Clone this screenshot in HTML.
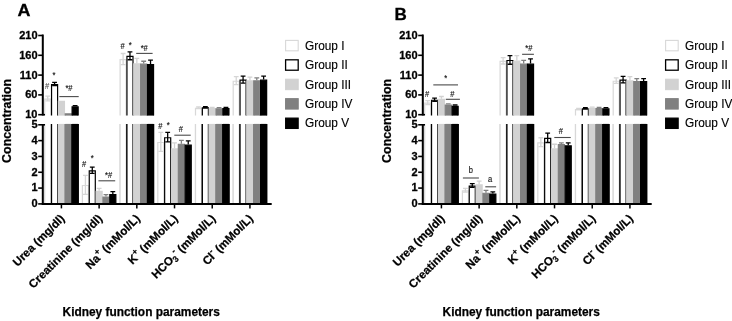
<!DOCTYPE html>
<html><head><meta charset="utf-8"><style>
html,body{margin:0;padding:0;background:#fff;}
svg{display:block;filter:blur(0.3px);font-family:"Liberation Sans",sans-serif;}
</style></head><body>
<svg width="732" height="321" viewBox="0 0 732 321">
<rect width="732" height="321" fill="#fff"/>
<g transform="translate(0,0)">
<path d="M44.70 115.60V99.06H50.75V115.60" fill="#ffffff" stroke="#d8d8d8" stroke-width="1.2"/>
<path d="M44.70 203.90V123.90M50.75 123.90V203.90" fill="none" stroke="#d8d8d8" stroke-width="1.2"/>
<rect x="44.70" y="123.90" width="6.05" height="80.00" fill="#ffffff"/>
<path d="M44.70 203.90V123.90M50.75 123.90V203.90" fill="none" stroke="#d8d8d8" stroke-width="1.2"/>
<path d="M51.55 115.60V84.61H57.60V115.60" fill="#ffffff" stroke="#000000" stroke-width="1.2"/>
<path d="M51.55 203.90V123.90M57.60 123.90V203.90" fill="none" stroke="#000000" stroke-width="1.2"/>
<rect x="51.55" y="123.90" width="6.05" height="80.00" fill="#ffffff"/>
<path d="M51.55 203.90V123.90M57.60 123.90V203.90" fill="none" stroke="#000000" stroke-width="1.2"/>
<path d="M58.40 115.60V101.44H64.45V115.60" fill="#d2d2d2" stroke="#d2d2d2" stroke-width="1.2"/>
<path d="M58.40 203.90V123.90M64.45 123.90V203.90" fill="none" stroke="#d2d2d2" stroke-width="1.2"/>
<rect x="58.40" y="123.90" width="6.05" height="80.00" fill="#d2d2d2"/>
<path d="M58.40 203.90V123.90M64.45 123.90V203.90" fill="none" stroke="#d2d2d2" stroke-width="1.2"/>
<path d="M65.25 115.60V113.91H71.30V115.60" fill="#808080" stroke="#808080" stroke-width="1.2"/>
<path d="M65.25 203.90V123.90M71.30 123.90V203.90" fill="none" stroke="#808080" stroke-width="1.2"/>
<rect x="65.25" y="123.90" width="6.05" height="80.00" fill="#808080"/>
<path d="M65.25 203.90V123.90M71.30 123.90V203.90" fill="none" stroke="#808080" stroke-width="1.2"/>
<path d="M72.10 115.60V106.79H78.15V115.60" fill="#000000" stroke="#000000" stroke-width="1.2"/>
<path d="M72.10 203.90V123.90M78.15 123.90V203.90" fill="none" stroke="#000000" stroke-width="1.2"/>
<rect x="72.10" y="123.90" width="6.05" height="80.00" fill="#000000"/>
<path d="M72.10 203.90V123.90M78.15 123.90V203.90" fill="none" stroke="#000000" stroke-width="1.2"/>
<path d="M82.40 203.90V185.52H88.45V203.90" fill="#ffffff" stroke="#d8d8d8" stroke-width="1.2"/>
<path d="M89.25 203.90V170.80H95.30V203.90" fill="#ffffff" stroke="#000000" stroke-width="1.2"/>
<path d="M96.10 203.90V191.37H102.15V203.90" fill="#d2d2d2" stroke="#d2d2d2" stroke-width="1.2"/>
<path d="M102.95 203.90V197.06H109.00V203.90" fill="#808080" stroke="#808080" stroke-width="1.2"/>
<path d="M109.80 203.90V194.53H115.85V203.90" fill="#000000" stroke="#000000" stroke-width="1.2"/>
<path d="M120.10 115.60V59.62H126.15V115.60" fill="#ffffff" stroke="#d8d8d8" stroke-width="1.2"/>
<path d="M120.10 203.90V123.90M126.15 123.90V203.90" fill="none" stroke="#d8d8d8" stroke-width="1.2"/>
<rect x="120.10" y="123.90" width="6.05" height="80.00" fill="#ffffff"/>
<path d="M120.10 203.90V123.90M126.15 123.90V203.90" fill="none" stroke="#d8d8d8" stroke-width="1.2"/>
<path d="M126.95 115.60V56.41H133.00V115.60" fill="#ffffff" stroke="#000000" stroke-width="1.2"/>
<path d="M126.95 203.90V123.90M133.00 123.90V203.90" fill="none" stroke="#000000" stroke-width="1.2"/>
<rect x="126.95" y="123.90" width="6.05" height="80.00" fill="#ffffff"/>
<path d="M126.95 203.90V123.90M133.00 123.90V203.90" fill="none" stroke="#000000" stroke-width="1.2"/>
<path d="M133.80 115.60V63.82H139.85V115.60" fill="#d2d2d2" stroke="#d2d2d2" stroke-width="1.2"/>
<path d="M133.80 203.90V123.90M139.85 123.90V203.90" fill="none" stroke="#d2d2d2" stroke-width="1.2"/>
<rect x="133.80" y="123.90" width="6.05" height="80.00" fill="#d2d2d2"/>
<path d="M133.80 203.90V123.90M139.85 123.90V203.90" fill="none" stroke="#d2d2d2" stroke-width="1.2"/>
<path d="M140.65 115.60V64.22H146.70V115.60" fill="#808080" stroke="#808080" stroke-width="1.2"/>
<path d="M140.65 203.90V123.90M146.70 123.90V203.90" fill="none" stroke="#808080" stroke-width="1.2"/>
<rect x="140.65" y="123.90" width="6.05" height="80.00" fill="#808080"/>
<path d="M140.65 203.90V123.90M146.70 123.90V203.90" fill="none" stroke="#808080" stroke-width="1.2"/>
<path d="M147.50 115.60V64.61H153.55V115.60" fill="#000000" stroke="#000000" stroke-width="1.2"/>
<path d="M147.50 203.90V123.90M153.55 123.90V203.90" fill="none" stroke="#000000" stroke-width="1.2"/>
<rect x="147.50" y="123.90" width="6.05" height="80.00" fill="#000000"/>
<path d="M147.50 203.90V123.90M153.55 123.90V203.90" fill="none" stroke="#000000" stroke-width="1.2"/>
<path d="M157.80 203.90V142.49H163.85V203.90" fill="#ffffff" stroke="#d8d8d8" stroke-width="1.2"/>
<path d="M164.65 203.90V137.74H170.70V203.90" fill="#ffffff" stroke="#000000" stroke-width="1.2"/>
<path d="M171.50 203.90V148.97H177.55V203.90" fill="#d2d2d2" stroke="#d2d2d2" stroke-width="1.2"/>
<path d="M178.35 203.90V144.23H184.40V203.90" fill="#808080" stroke="#808080" stroke-width="1.2"/>
<path d="M185.20 203.90V145.17H191.25V203.90" fill="#000000" stroke="#000000" stroke-width="1.2"/>
<path d="M195.50 115.60V108.29H201.55V115.60" fill="#ffffff" stroke="#d8d8d8" stroke-width="1.2"/>
<path d="M195.50 203.90V123.90M201.55 123.90V203.90" fill="none" stroke="#d8d8d8" stroke-width="1.2"/>
<rect x="195.50" y="123.90" width="6.05" height="80.00" fill="#ffffff"/>
<path d="M195.50 203.90V123.90M201.55 123.90V203.90" fill="none" stroke="#d8d8d8" stroke-width="1.2"/>
<path d="M202.35 115.60V107.78H208.40V115.60" fill="#ffffff" stroke="#000000" stroke-width="1.2"/>
<path d="M202.35 203.90V123.90M208.40 123.90V203.90" fill="none" stroke="#000000" stroke-width="1.2"/>
<rect x="202.35" y="123.90" width="6.05" height="80.00" fill="#ffffff"/>
<path d="M202.35 203.90V123.90M208.40 123.90V203.90" fill="none" stroke="#000000" stroke-width="1.2"/>
<path d="M209.20 115.60V108.57H215.25V115.60" fill="#d2d2d2" stroke="#d2d2d2" stroke-width="1.2"/>
<path d="M209.20 203.90V123.90M215.25 123.90V203.90" fill="none" stroke="#d2d2d2" stroke-width="1.2"/>
<rect x="209.20" y="123.90" width="6.05" height="80.00" fill="#d2d2d2"/>
<path d="M209.20 203.90V123.90M215.25 123.90V203.90" fill="none" stroke="#d2d2d2" stroke-width="1.2"/>
<path d="M216.05 115.60V108.81H222.10V115.60" fill="#808080" stroke="#808080" stroke-width="1.2"/>
<path d="M216.05 203.90V123.90M222.10 123.90V203.90" fill="none" stroke="#808080" stroke-width="1.2"/>
<rect x="216.05" y="123.90" width="6.05" height="80.00" fill="#808080"/>
<path d="M216.05 203.90V123.90M222.10 123.90V203.90" fill="none" stroke="#808080" stroke-width="1.2"/>
<path d="M222.90 115.60V108.49H228.95V115.60" fill="#000000" stroke="#000000" stroke-width="1.2"/>
<path d="M222.90 203.90V123.90M228.95 123.90V203.90" fill="none" stroke="#000000" stroke-width="1.2"/>
<rect x="222.90" y="123.90" width="6.05" height="80.00" fill="#000000"/>
<path d="M222.90 203.90V123.90M228.95 123.90V203.90" fill="none" stroke="#000000" stroke-width="1.2"/>
<path d="M233.20 115.60V81.24H239.25V115.60" fill="#ffffff" stroke="#d8d8d8" stroke-width="1.2"/>
<path d="M233.20 203.90V123.90M239.25 123.90V203.90" fill="none" stroke="#d8d8d8" stroke-width="1.2"/>
<rect x="233.20" y="123.90" width="6.05" height="80.00" fill="#ffffff"/>
<path d="M233.20 203.90V123.90M239.25 123.90V203.90" fill="none" stroke="#d8d8d8" stroke-width="1.2"/>
<path d="M240.05 115.60V80.21H246.10V115.60" fill="#ffffff" stroke="#000000" stroke-width="1.2"/>
<path d="M240.05 203.90V123.90M246.10 123.90V203.90" fill="none" stroke="#000000" stroke-width="1.2"/>
<rect x="240.05" y="123.90" width="6.05" height="80.00" fill="#ffffff"/>
<path d="M240.05 203.90V123.90M246.10 123.90V203.90" fill="none" stroke="#000000" stroke-width="1.2"/>
<path d="M246.90 115.60V80.85H252.95V115.60" fill="#d2d2d2" stroke="#d2d2d2" stroke-width="1.2"/>
<path d="M246.90 203.90V123.90M252.95 123.90V203.90" fill="none" stroke="#d2d2d2" stroke-width="1.2"/>
<rect x="246.90" y="123.90" width="6.05" height="80.00" fill="#d2d2d2"/>
<path d="M246.90 203.90V123.90M252.95 123.90V203.90" fill="none" stroke="#d2d2d2" stroke-width="1.2"/>
<path d="M253.75 115.60V80.85H259.80V115.60" fill="#808080" stroke="#808080" stroke-width="1.2"/>
<path d="M253.75 203.90V123.90M259.80 123.90V203.90" fill="none" stroke="#808080" stroke-width="1.2"/>
<rect x="253.75" y="123.90" width="6.05" height="80.00" fill="#808080"/>
<path d="M253.75 203.90V123.90M259.80 123.90V203.90" fill="none" stroke="#808080" stroke-width="1.2"/>
<path d="M260.60 115.60V80.21H266.65V115.60" fill="#000000" stroke="#000000" stroke-width="1.2"/>
<path d="M260.60 203.90V123.90M266.65 123.90V203.90" fill="none" stroke="#000000" stroke-width="1.2"/>
<rect x="260.60" y="123.90" width="6.05" height="80.00" fill="#000000"/>
<path d="M260.60 203.90V123.90M266.65 123.90V203.90" fill="none" stroke="#000000" stroke-width="1.2"/>
<path d="M47.72 96.09V100.84M45.32 96.09H50.12M45.32 100.84H50.12" stroke="#d6d6d6" stroke-width="1.3" fill="none"/>
<path d="M54.57 82.43V85.59M52.17 82.43H56.97M52.17 85.59H56.97" stroke="#000000" stroke-width="1.3" fill="none"/>
<path d="M75.12 105.59V106.19M72.72 105.59H77.52" stroke="#000000" stroke-width="1.3" fill="none"/>
<path d="M85.42 175.42V194.41M83.02 175.42H87.83M83.02 194.41H87.83" stroke="#d6d6d6" stroke-width="1.3" fill="none"/>
<path d="M92.27 167.04V173.37M89.87 167.04H94.67M89.87 173.37H94.67" stroke="#000000" stroke-width="1.3" fill="none"/>
<path d="M99.12 188.40V190.77M96.72 188.40H101.53" stroke="#d2d2d2" stroke-width="1.3" fill="none"/>
<path d="M105.97 194.57V196.46M103.57 194.57H108.38" stroke="#808080" stroke-width="1.3" fill="none"/>
<path d="M112.83 191.56V193.93M110.42 191.56H115.23" stroke="#000000" stroke-width="1.3" fill="none"/>
<path d="M123.12 53.48V64.57M120.72 53.48H125.53M120.72 64.57H125.53" stroke="#d6d6d6" stroke-width="1.3" fill="none"/>
<path d="M129.97 51.85V59.77M127.57 51.85H132.38M127.57 59.77H132.38" stroke="#000000" stroke-width="1.3" fill="none"/>
<path d="M136.83 58.47V63.22M134.43 58.47H139.23" stroke="#d2d2d2" stroke-width="1.3" fill="none"/>
<path d="M143.68 61.24V63.62M141.28 61.24H146.08" stroke="#808080" stroke-width="1.3" fill="none"/>
<path d="M150.53 60.05V64.01M148.12 60.05H152.93" stroke="#000000" stroke-width="1.3" fill="none"/>
<path d="M160.83 132.39V151.38M158.43 132.39H163.23M158.43 151.38H163.23" stroke="#d6d6d6" stroke-width="1.3" fill="none"/>
<path d="M167.68 132.39V141.89M165.28 132.39H170.08M165.28 141.89H170.08" stroke="#000000" stroke-width="1.3" fill="none"/>
<path d="M174.53 142.83V148.37M172.12 142.83H176.93" stroke="#d2d2d2" stroke-width="1.3" fill="none"/>
<path d="M181.38 140.46V143.63M178.97 140.46H183.78" stroke="#808080" stroke-width="1.3" fill="none"/>
<path d="M188.23 140.78V144.57M185.83 140.78H190.63" stroke="#000000" stroke-width="1.3" fill="none"/>
<path d="M198.53 106.90V108.48M196.13 106.90H200.93M196.13 108.48H200.93" stroke="#d6d6d6" stroke-width="1.3" fill="none"/>
<path d="M205.38 106.58V107.77M202.98 106.58H207.78M202.98 107.77H207.78" stroke="#000000" stroke-width="1.3" fill="none"/>
<path d="M212.23 107.37V107.97M209.83 107.37H214.63" stroke="#d2d2d2" stroke-width="1.3" fill="none"/>
<path d="M219.08 107.61V108.21M216.68 107.61H221.48" stroke="#808080" stroke-width="1.3" fill="none"/>
<path d="M225.93 107.29V107.89M223.53 107.29H228.33" stroke="#000000" stroke-width="1.3" fill="none"/>
<path d="M236.23 76.68V84.60M233.83 76.68H238.63M233.83 84.60H238.63" stroke="#d6d6d6" stroke-width="1.3" fill="none"/>
<path d="M243.08 76.05V83.18M240.68 76.05H245.48M240.68 83.18H245.48" stroke="#000000" stroke-width="1.3" fill="none"/>
<path d="M249.93 77.08V80.25M247.53 77.08H252.33" stroke="#d2d2d2" stroke-width="1.3" fill="none"/>
<path d="M256.78 77.87V80.25M254.38 77.87H259.18" stroke="#808080" stroke-width="1.3" fill="none"/>
<path d="M263.62 76.05V79.61M261.23 76.05H266.02" stroke="#000000" stroke-width="1.3" fill="none"/>
<path d="M42.8 34.6V115.60M42.8 123.90V204.90" stroke="#000" stroke-width="2" fill="none"/>
<path d="M41.8 204.10H271.7" stroke="#000" stroke-width="2" fill="none"/>
<path d="M38.2 35.50H42.8" stroke="#000" stroke-width="1.6"/>
<path d="M38.2 55.30H42.8" stroke="#000" stroke-width="1.6"/>
<path d="M38.2 75.10H42.8" stroke="#000" stroke-width="1.6"/>
<path d="M38.2 94.90H42.8" stroke="#000" stroke-width="1.6"/>
<path d="M38.2 114.70H45.0" stroke="#000" stroke-width="1.6"/>
<path d="M38.2 124.80H45.0" stroke="#000" stroke-width="1.6"/>
<path d="M38.2 140.62H42.8" stroke="#000" stroke-width="1.6"/>
<path d="M38.2 156.44H42.8" stroke="#000" stroke-width="1.6"/>
<path d="M38.2 172.26H42.8" stroke="#000" stroke-width="1.6"/>
<path d="M38.2 188.08H42.8" stroke="#000" stroke-width="1.6"/>
<path d="M38.2 203.90H42.8" stroke="#000" stroke-width="1.6"/>
<path d="M61.42 203.90V208.4" stroke="#000" stroke-width="1.5"/>
<path d="M99.12 203.90V208.4" stroke="#000" stroke-width="1.5"/>
<path d="M136.82 203.90V208.4" stroke="#000" stroke-width="1.5"/>
<path d="M174.53 203.90V208.4" stroke="#000" stroke-width="1.5"/>
<path d="M212.23 203.90V208.4" stroke="#000" stroke-width="1.5"/>
<path d="M249.93 203.90V208.4" stroke="#000" stroke-width="1.5"/>
<g font-weight="bold" font-size="11" text-anchor="end" fill="#000" stroke="#000" stroke-width="0.3">
<text x="37.5" y="38.90">210</text>
<text x="37.5" y="58.70">160</text>
<text x="37.5" y="78.50">110</text>
<text x="37.5" y="98.30">60</text>
<text x="37.5" y="118.10">10</text>
<text x="37.5" y="128.20">5</text>
<text x="37.5" y="144.02">4</text>
<text x="37.5" y="159.84">3</text>
<text x="37.5" y="175.66">2</text>
<text x="37.5" y="191.48">1</text>
<text x="37.5" y="207.30">0</text>
</g>
<g font-weight="bold" font-size="11.6" text-anchor="end" fill="#000" stroke="#000" stroke-width="0.25">
<text transform="translate(65.33,219.2) rotate(-45)">Urea (mg/dl)</text>
<text transform="translate(103.03,219.2) rotate(-45)">Creatinine (mg/dl)</text>
<text transform="translate(140.72,219.2) rotate(-45)">Na<tspan dy="-5" font-size="8.5">+</tspan><tspan dy="5"> (mMol/L)</tspan></text>
<text transform="translate(178.43,219.2) rotate(-45)">K<tspan dy="-5" font-size="8.5">+</tspan><tspan dy="5"> (mMol/L)</tspan></text>
<text transform="translate(216.13,219.2) rotate(-45)">HCO<tspan dy="2.5" font-size="8.5">3</tspan><tspan dy="-7.5" font-size="8.5">-</tspan><tspan dy="5"> (mMol/L)</tspan></text>
<text transform="translate(253.83,219.2) rotate(-45)">Cl<tspan dy="-5" font-size="8.5">-</tspan><tspan dy="5"> (mMol/L)</tspan></text>
</g>
<text transform="translate(11.1,120.9) rotate(-90)" font-weight="bold" font-size="12.4" stroke="#000" stroke-width="0.25" text-anchor="middle">Concentration</text>
<text x="141.2" y="316" font-weight="bold" font-size="11.9" stroke="#000" stroke-width="0.25" text-anchor="middle">Kidney function parameters</text>
<text transform="translate(17.5,16.2) scale(1.05,1)" font-weight="bold" font-size="17.1" stroke="#000" stroke-width="0.3">A</text>
<text transform="translate(47,89.4) scale(0.84,1)" font-size="9" text-anchor="middle" fill="#555" stroke="#555" stroke-width="0.15">#</text>
<text transform="translate(54,78.4) scale(0.84,1)" font-size="9" text-anchor="middle" fill="#111" stroke="#111" stroke-width="0.15">*</text>
<text transform="translate(69,91.4) scale(0.84,1)" font-size="9" text-anchor="middle" fill="#111" stroke="#111" stroke-width="0.15">*#</text>
<text transform="translate(84,166.9) scale(0.84,1)" font-size="9" text-anchor="middle" fill="#111" stroke="#111" stroke-width="0.15">#</text>
<text transform="translate(92.2,161.4) scale(0.84,1)" font-size="9" text-anchor="middle" fill="#111" stroke="#111" stroke-width="0.15">*</text>
<text transform="translate(108.6,177.9) scale(0.84,1)" font-size="9" text-anchor="middle" fill="#111" stroke="#111" stroke-width="0.15">*#</text>
<text transform="translate(122.7,48.9) scale(0.84,1)" font-size="9" text-anchor="middle" fill="#111" stroke="#111" stroke-width="0.15">#</text>
<text transform="translate(130.2,47.9) scale(0.84,1)" font-size="9" text-anchor="middle" fill="#111" stroke="#111" stroke-width="0.15">*</text>
<text transform="translate(144.2,50.9) scale(0.84,1)" font-size="9" text-anchor="middle" fill="#111" stroke="#111" stroke-width="0.15">*#</text>
<text transform="translate(160.3,129.4) scale(0.84,1)" font-size="9" text-anchor="middle" fill="#111" stroke="#111" stroke-width="0.15">#</text>
<text transform="translate(168.1,127.9) scale(0.84,1)" font-size="9" text-anchor="middle" fill="#111" stroke="#111" stroke-width="0.15">*</text>
<text transform="translate(180.8,132.4) scale(0.84,1)" font-size="9" text-anchor="middle" fill="#111" stroke="#111" stroke-width="0.15">#</text>
<path d="M59.3 96.6H78.7" stroke="#4a4a4a" stroke-width="1.1"/>
<path d="M98.4 180.8H115.2" stroke="#4a4a4a" stroke-width="1.1"/>
<path d="M136.2 53.4H152.6" stroke="#4a4a4a" stroke-width="1.1"/>
<path d="M174.3 135.2H190.7" stroke="#4a4a4a" stroke-width="1.1"/>
<rect x="285.6" y="40.40" width="12.6" height="10.4" fill="#ffffff" stroke="#d8d8d8" stroke-width="1.1"/>
<text transform="translate(305,49.70) scale(0.94,1)" font-size="12.6" stroke="#000" stroke-width="0.15">Group I</text>
<rect x="285.6" y="59.82" width="12.6" height="10.4" fill="#ffffff" stroke="#000000" stroke-width="1.3"/>
<text transform="translate(305,69.12) scale(0.94,1)" font-size="12.6" stroke="#000" stroke-width="0.15">Group II</text>
<rect x="285.6" y="79.24" width="12.6" height="10.4" fill="#d2d2d2" stroke="#d2d2d2" stroke-width="1.1"/>
<text transform="translate(305,88.54) scale(0.94,1)" font-size="12.6" stroke="#000" stroke-width="0.15">Group III</text>
<rect x="285.6" y="98.66" width="12.6" height="10.4" fill="#808080" stroke="#808080" stroke-width="1.1"/>
<text transform="translate(305,107.96) scale(0.94,1)" font-size="12.6" stroke="#000" stroke-width="0.15">Group IV</text>
<rect x="285.6" y="118.08" width="12.6" height="10.4" fill="#000000" stroke="#000000" stroke-width="1.1"/>
<text transform="translate(305,127.38) scale(0.94,1)" font-size="12.6" stroke="#000" stroke-width="0.15">Group V</text>
</g>
<g transform="translate(380,0)">
<path d="M44.70 115.60V103.18H50.75V115.60" fill="#ffffff" stroke="#d8d8d8" stroke-width="1.2"/>
<path d="M44.70 203.90V123.90M50.75 123.90V203.90" fill="none" stroke="#d8d8d8" stroke-width="1.2"/>
<rect x="44.70" y="123.90" width="6.05" height="80.00" fill="#ffffff"/>
<path d="M44.70 203.90V123.90M50.75 123.90V203.90" fill="none" stroke="#d8d8d8" stroke-width="1.2"/>
<path d="M51.55 115.60V100.25H57.60V115.60" fill="#ffffff" stroke="#000000" stroke-width="1.2"/>
<path d="M51.55 203.90V123.90M57.60 123.90V203.90" fill="none" stroke="#000000" stroke-width="1.2"/>
<rect x="51.55" y="123.90" width="6.05" height="80.00" fill="#ffffff"/>
<path d="M51.55 203.90V123.90M57.60 123.90V203.90" fill="none" stroke="#000000" stroke-width="1.2"/>
<path d="M58.40 115.60V99.46H64.45V115.60" fill="#d2d2d2" stroke="#d2d2d2" stroke-width="1.2"/>
<path d="M58.40 203.90V123.90M64.45 123.90V203.90" fill="none" stroke="#d2d2d2" stroke-width="1.2"/>
<rect x="58.40" y="123.90" width="6.05" height="80.00" fill="#d2d2d2"/>
<path d="M58.40 203.90V123.90M64.45 123.90V203.90" fill="none" stroke="#d2d2d2" stroke-width="1.2"/>
<path d="M65.25 115.60V105.00H71.30V115.60" fill="#808080" stroke="#808080" stroke-width="1.2"/>
<path d="M65.25 203.90V123.90M71.30 123.90V203.90" fill="none" stroke="#808080" stroke-width="1.2"/>
<rect x="65.25" y="123.90" width="6.05" height="80.00" fill="#808080"/>
<path d="M65.25 203.90V123.90M71.30 123.90V203.90" fill="none" stroke="#808080" stroke-width="1.2"/>
<path d="M72.10 115.60V106.39H78.15V115.60" fill="#000000" stroke="#000000" stroke-width="1.2"/>
<path d="M72.10 203.90V123.90M78.15 123.90V203.90" fill="none" stroke="#000000" stroke-width="1.2"/>
<rect x="72.10" y="123.90" width="6.05" height="80.00" fill="#000000"/>
<path d="M72.10 203.90V123.90M78.15 123.90V203.90" fill="none" stroke="#000000" stroke-width="1.2"/>
<path d="M82.40 203.90V190.89H88.45V203.90" fill="#ffffff" stroke="#d8d8d8" stroke-width="1.2"/>
<path d="M89.25 203.90V186.15H95.30V203.90" fill="#ffffff" stroke="#000000" stroke-width="1.2"/>
<path d="M96.10 203.90V184.88H102.15V203.90" fill="#d2d2d2" stroke="#d2d2d2" stroke-width="1.2"/>
<path d="M102.95 203.90V193.27H109.00V203.90" fill="#808080" stroke="#808080" stroke-width="1.2"/>
<path d="M109.80 203.90V194.06H115.85V203.90" fill="#000000" stroke="#000000" stroke-width="1.2"/>
<path d="M120.10 115.60V61.44H126.15V115.60" fill="#ffffff" stroke="#d8d8d8" stroke-width="1.2"/>
<path d="M120.10 203.90V123.90M126.15 123.90V203.90" fill="none" stroke="#d8d8d8" stroke-width="1.2"/>
<rect x="120.10" y="123.90" width="6.05" height="80.00" fill="#ffffff"/>
<path d="M120.10 203.90V123.90M126.15 123.90V203.90" fill="none" stroke="#d8d8d8" stroke-width="1.2"/>
<path d="M126.95 115.60V60.49H133.00V115.60" fill="#ffffff" stroke="#000000" stroke-width="1.2"/>
<path d="M126.95 203.90V123.90M133.00 123.90V203.90" fill="none" stroke="#000000" stroke-width="1.2"/>
<rect x="126.95" y="123.90" width="6.05" height="80.00" fill="#ffffff"/>
<path d="M126.95 203.90V123.90M133.00 123.90V203.90" fill="none" stroke="#000000" stroke-width="1.2"/>
<path d="M133.80 115.60V61.05H139.85V115.60" fill="#d2d2d2" stroke="#d2d2d2" stroke-width="1.2"/>
<path d="M133.80 203.90V123.90M139.85 123.90V203.90" fill="none" stroke="#d2d2d2" stroke-width="1.2"/>
<rect x="133.80" y="123.90" width="6.05" height="80.00" fill="#d2d2d2"/>
<path d="M133.80 203.90V123.90M139.85 123.90V203.90" fill="none" stroke="#d2d2d2" stroke-width="1.2"/>
<path d="M140.65 115.60V64.22H146.70V115.60" fill="#808080" stroke="#808080" stroke-width="1.2"/>
<path d="M140.65 203.90V123.90M146.70 123.90V203.90" fill="none" stroke="#808080" stroke-width="1.2"/>
<rect x="140.65" y="123.90" width="6.05" height="80.00" fill="#808080"/>
<path d="M140.65 203.90V123.90M146.70 123.90V203.90" fill="none" stroke="#808080" stroke-width="1.2"/>
<path d="M147.50 115.60V64.22H153.55V115.60" fill="#000000" stroke="#000000" stroke-width="1.2"/>
<path d="M147.50 203.90V123.90M153.55 123.90V203.90" fill="none" stroke="#000000" stroke-width="1.2"/>
<rect x="147.50" y="123.90" width="6.05" height="80.00" fill="#000000"/>
<path d="M147.50 203.90V123.90M153.55 123.90V203.90" fill="none" stroke="#000000" stroke-width="1.2"/>
<path d="M157.80 203.90V142.80H163.85V203.90" fill="#ffffff" stroke="#d8d8d8" stroke-width="1.2"/>
<path d="M164.65 203.90V138.37H170.70V203.90" fill="#ffffff" stroke="#000000" stroke-width="1.2"/>
<path d="M171.50 203.90V148.97H177.55V203.90" fill="#d2d2d2" stroke="#d2d2d2" stroke-width="1.2"/>
<path d="M178.35 203.90V144.70H184.40V203.90" fill="#808080" stroke="#808080" stroke-width="1.2"/>
<path d="M185.20 203.90V145.81H191.25V203.90" fill="#000000" stroke="#000000" stroke-width="1.2"/>
<path d="M195.50 115.60V109.60H201.55V115.60" fill="#ffffff" stroke="#d8d8d8" stroke-width="1.2"/>
<path d="M195.50 203.90V123.90M201.55 123.90V203.90" fill="none" stroke="#d8d8d8" stroke-width="1.2"/>
<rect x="195.50" y="123.90" width="6.05" height="80.00" fill="#ffffff"/>
<path d="M195.50 203.90V123.90M201.55 123.90V203.90" fill="none" stroke="#d8d8d8" stroke-width="1.2"/>
<path d="M202.35 115.60V108.81H208.40V115.60" fill="#ffffff" stroke="#000000" stroke-width="1.2"/>
<path d="M202.35 203.90V123.90M208.40 123.90V203.90" fill="none" stroke="#000000" stroke-width="1.2"/>
<rect x="202.35" y="123.90" width="6.05" height="80.00" fill="#ffffff"/>
<path d="M202.35 203.90V123.90M208.40 123.90V203.90" fill="none" stroke="#000000" stroke-width="1.2"/>
<path d="M209.20 115.60V108.29H215.25V115.60" fill="#d2d2d2" stroke="#d2d2d2" stroke-width="1.2"/>
<path d="M209.20 203.90V123.90M215.25 123.90V203.90" fill="none" stroke="#d2d2d2" stroke-width="1.2"/>
<rect x="209.20" y="123.90" width="6.05" height="80.00" fill="#d2d2d2"/>
<path d="M209.20 203.90V123.90M215.25 123.90V203.90" fill="none" stroke="#d2d2d2" stroke-width="1.2"/>
<path d="M216.05 115.60V108.49H222.10V115.60" fill="#808080" stroke="#808080" stroke-width="1.2"/>
<path d="M216.05 203.90V123.90M222.10 123.90V203.90" fill="none" stroke="#808080" stroke-width="1.2"/>
<rect x="216.05" y="123.90" width="6.05" height="80.00" fill="#808080"/>
<path d="M216.05 203.90V123.90M222.10 123.90V203.90" fill="none" stroke="#808080" stroke-width="1.2"/>
<path d="M222.90 115.60V108.81H228.95V115.60" fill="#000000" stroke="#000000" stroke-width="1.2"/>
<path d="M222.90 203.90V123.90M228.95 123.90V203.90" fill="none" stroke="#000000" stroke-width="1.2"/>
<rect x="222.90" y="123.90" width="6.05" height="80.00" fill="#000000"/>
<path d="M222.90 203.90V123.90M228.95 123.90V203.90" fill="none" stroke="#000000" stroke-width="1.2"/>
<path d="M233.20 115.60V81.24H239.25V115.60" fill="#ffffff" stroke="#d8d8d8" stroke-width="1.2"/>
<path d="M233.20 203.90V123.90M239.25 123.90V203.90" fill="none" stroke="#d8d8d8" stroke-width="1.2"/>
<rect x="233.20" y="123.90" width="6.05" height="80.00" fill="#ffffff"/>
<path d="M233.20 203.90V123.90M239.25 123.90V203.90" fill="none" stroke="#d8d8d8" stroke-width="1.2"/>
<path d="M240.05 115.60V80.21H246.10V115.60" fill="#ffffff" stroke="#000000" stroke-width="1.2"/>
<path d="M240.05 203.90V123.90M246.10 123.90V203.90" fill="none" stroke="#000000" stroke-width="1.2"/>
<rect x="240.05" y="123.90" width="6.05" height="80.00" fill="#ffffff"/>
<path d="M240.05 203.90V123.90M246.10 123.90V203.90" fill="none" stroke="#000000" stroke-width="1.2"/>
<path d="M246.90 115.60V80.85H252.95V115.60" fill="#d2d2d2" stroke="#d2d2d2" stroke-width="1.2"/>
<path d="M246.90 203.90V123.90M252.95 123.90V203.90" fill="none" stroke="#d2d2d2" stroke-width="1.2"/>
<rect x="246.90" y="123.90" width="6.05" height="80.00" fill="#d2d2d2"/>
<path d="M246.90 203.90V123.90M252.95 123.90V203.90" fill="none" stroke="#d2d2d2" stroke-width="1.2"/>
<path d="M253.75 115.60V81.64H259.80V115.60" fill="#808080" stroke="#808080" stroke-width="1.2"/>
<path d="M253.75 203.90V123.90M259.80 123.90V203.90" fill="none" stroke="#808080" stroke-width="1.2"/>
<rect x="253.75" y="123.90" width="6.05" height="80.00" fill="#808080"/>
<path d="M253.75 203.90V123.90M259.80 123.90V203.90" fill="none" stroke="#808080" stroke-width="1.2"/>
<path d="M260.60 115.60V81.64H266.65V115.60" fill="#000000" stroke="#000000" stroke-width="1.2"/>
<path d="M260.60 203.90V123.90M266.65 123.90V203.90" fill="none" stroke="#000000" stroke-width="1.2"/>
<rect x="260.60" y="123.90" width="6.05" height="80.00" fill="#000000"/>
<path d="M260.60 203.90V123.90M266.65 123.90V203.90" fill="none" stroke="#000000" stroke-width="1.2"/>
<path d="M47.72 100.60V104.56M45.32 100.60H50.12M45.32 104.56H50.12" stroke="#d6d6d6" stroke-width="1.3" fill="none"/>
<path d="M54.57 98.07V101.24M52.17 98.07H56.97M52.17 101.24H56.97" stroke="#000000" stroke-width="1.3" fill="none"/>
<path d="M61.42 96.48V98.86M59.02 96.48H63.82" stroke="#d2d2d2" stroke-width="1.3" fill="none"/>
<path d="M68.27 103.81V104.40M65.87 103.81H70.67" stroke="#808080" stroke-width="1.3" fill="none"/>
<path d="M75.12 105.00V105.79M72.72 105.00H77.52" stroke="#000000" stroke-width="1.3" fill="none"/>
<path d="M85.42 188.40V192.19M83.02 188.40H87.83M83.02 192.19H87.83" stroke="#d6d6d6" stroke-width="1.3" fill="none"/>
<path d="M92.27 183.65V187.45M89.87 183.65H94.67M89.87 187.45H94.67" stroke="#000000" stroke-width="1.3" fill="none"/>
<path d="M99.12 181.12V184.28M96.72 181.12H101.53" stroke="#d2d2d2" stroke-width="1.3" fill="none"/>
<path d="M105.97 190.29V192.67M103.57 190.29H108.38" stroke="#808080" stroke-width="1.3" fill="none"/>
<path d="M112.83 191.88V193.46M110.42 191.88H115.23" stroke="#000000" stroke-width="1.3" fill="none"/>
<path d="M123.12 57.68V64.01M120.72 57.68H125.53M120.72 64.01H125.53" stroke="#d6d6d6" stroke-width="1.3" fill="none"/>
<path d="M129.97 55.54V64.25M127.57 55.54H132.38M127.57 64.25H132.38" stroke="#000000" stroke-width="1.3" fill="none"/>
<path d="M136.83 55.70V60.45M134.43 55.70H139.23" stroke="#d2d2d2" stroke-width="1.3" fill="none"/>
<path d="M143.68 60.45V63.62M141.28 60.45H146.08" stroke="#808080" stroke-width="1.3" fill="none"/>
<path d="M150.53 58.86V63.62M148.12 58.86H152.93" stroke="#000000" stroke-width="1.3" fill="none"/>
<path d="M160.83 137.77V146.63M158.43 137.77H163.23M158.43 146.63H163.23" stroke="#d6d6d6" stroke-width="1.3" fill="none"/>
<path d="M167.68 133.03V142.52M165.28 133.03H170.08M165.28 142.52H170.08" stroke="#000000" stroke-width="1.3" fill="none"/>
<path d="M174.53 144.26V148.37M172.12 144.26H176.93" stroke="#d2d2d2" stroke-width="1.3" fill="none"/>
<path d="M181.38 142.83V144.10M178.97 142.83H183.78" stroke="#808080" stroke-width="1.3" fill="none"/>
<path d="M188.23 142.83V145.21M185.83 142.83H190.63" stroke="#000000" stroke-width="1.3" fill="none"/>
<path d="M198.53 108.40V109.59M196.13 108.40H200.93M196.13 109.59H200.93" stroke="#d6d6d6" stroke-width="1.3" fill="none"/>
<path d="M205.38 107.61V108.80M202.98 107.61H207.78M202.98 108.80H207.78" stroke="#000000" stroke-width="1.3" fill="none"/>
<path d="M212.23 107.10V107.69M209.83 107.10H214.63" stroke="#d2d2d2" stroke-width="1.3" fill="none"/>
<path d="M219.08 107.29V107.89M216.68 107.29H221.48" stroke="#808080" stroke-width="1.3" fill="none"/>
<path d="M225.93 107.61V108.21M223.53 107.61H228.33" stroke="#000000" stroke-width="1.3" fill="none"/>
<path d="M236.23 77.87V83.42M233.83 77.87H238.63M233.83 83.42H238.63" stroke="#d6d6d6" stroke-width="1.3" fill="none"/>
<path d="M243.08 76.45V82.78M240.68 76.45H245.48M240.68 82.78H245.48" stroke="#000000" stroke-width="1.3" fill="none"/>
<path d="M249.93 76.68V80.25M247.53 76.68H252.33" stroke="#d2d2d2" stroke-width="1.3" fill="none"/>
<path d="M256.78 78.66V81.04M254.38 78.66H259.18" stroke="#808080" stroke-width="1.3" fill="none"/>
<path d="M263.62 78.66V81.04M261.23 78.66H266.02" stroke="#000000" stroke-width="1.3" fill="none"/>
<path d="M42.8 34.6V115.60M42.8 123.90V204.90" stroke="#000" stroke-width="2" fill="none"/>
<path d="M41.8 204.10H271.7" stroke="#000" stroke-width="2" fill="none"/>
<path d="M38.2 35.50H42.8" stroke="#000" stroke-width="1.6"/>
<path d="M38.2 55.30H42.8" stroke="#000" stroke-width="1.6"/>
<path d="M38.2 75.10H42.8" stroke="#000" stroke-width="1.6"/>
<path d="M38.2 94.90H42.8" stroke="#000" stroke-width="1.6"/>
<path d="M38.2 114.70H45.0" stroke="#000" stroke-width="1.6"/>
<path d="M38.2 124.80H45.0" stroke="#000" stroke-width="1.6"/>
<path d="M38.2 140.62H42.8" stroke="#000" stroke-width="1.6"/>
<path d="M38.2 156.44H42.8" stroke="#000" stroke-width="1.6"/>
<path d="M38.2 172.26H42.8" stroke="#000" stroke-width="1.6"/>
<path d="M38.2 188.08H42.8" stroke="#000" stroke-width="1.6"/>
<path d="M38.2 203.90H42.8" stroke="#000" stroke-width="1.6"/>
<path d="M61.42 203.90V208.4" stroke="#000" stroke-width="1.5"/>
<path d="M99.12 203.90V208.4" stroke="#000" stroke-width="1.5"/>
<path d="M136.82 203.90V208.4" stroke="#000" stroke-width="1.5"/>
<path d="M174.53 203.90V208.4" stroke="#000" stroke-width="1.5"/>
<path d="M212.23 203.90V208.4" stroke="#000" stroke-width="1.5"/>
<path d="M249.93 203.90V208.4" stroke="#000" stroke-width="1.5"/>
<g font-weight="bold" font-size="11" text-anchor="end" fill="#000" stroke="#000" stroke-width="0.3">
<text x="37.5" y="38.90">210</text>
<text x="37.5" y="58.70">160</text>
<text x="37.5" y="78.50">110</text>
<text x="37.5" y="98.30">60</text>
<text x="37.5" y="118.10">10</text>
<text x="37.5" y="128.20">5</text>
<text x="37.5" y="144.02">4</text>
<text x="37.5" y="159.84">3</text>
<text x="37.5" y="175.66">2</text>
<text x="37.5" y="191.48">1</text>
<text x="37.5" y="207.30">0</text>
</g>
<g font-weight="bold" font-size="11.6" text-anchor="end" fill="#000" stroke="#000" stroke-width="0.25">
<text transform="translate(65.33,219.2) rotate(-45)">Urea (mg/dl)</text>
<text transform="translate(103.03,219.2) rotate(-45)">Creatinine (mg/dl)</text>
<text transform="translate(140.72,219.2) rotate(-45)">Na<tspan dy="-5" font-size="8.5">+</tspan><tspan dy="5"> (mMol/L)</tspan></text>
<text transform="translate(178.43,219.2) rotate(-45)">K<tspan dy="-5" font-size="8.5">+</tspan><tspan dy="5"> (mMol/L)</tspan></text>
<text transform="translate(216.13,219.2) rotate(-45)">HCO<tspan dy="2.5" font-size="8.5">3</tspan><tspan dy="-7.5" font-size="8.5">-</tspan><tspan dy="5"> (mMol/L)</tspan></text>
<text transform="translate(253.83,219.2) rotate(-45)">Cl<tspan dy="-5" font-size="8.5">-</tspan><tspan dy="5"> (mMol/L)</tspan></text>
</g>
<text transform="translate(11.1,120.9) rotate(-90)" font-weight="bold" font-size="12.4" stroke="#000" stroke-width="0.25" text-anchor="middle">Concentration</text>
<text x="141.2" y="316" font-weight="bold" font-size="11.9" stroke="#000" stroke-width="0.25" text-anchor="middle">Kidney function parameters</text>
<text transform="translate(14.6,20) scale(1.0,1)" font-weight="bold" font-size="17.0" stroke="#000" stroke-width="0.3">B</text>
<text transform="translate(47.1,96.9) scale(0.84,1)" font-size="9" text-anchor="middle" fill="#111" stroke="#111" stroke-width="0.15">#</text>
<text transform="translate(65.8,80.9) scale(0.84,1)" font-size="9" text-anchor="middle" fill="#111" stroke="#111" stroke-width="0.15">*</text>
<text transform="translate(72.4,96.7) scale(0.84,1)" font-size="9" text-anchor="middle" fill="#111" stroke="#111" stroke-width="0.15">#</text>
<text transform="translate(90.9,172.7) scale(0.84,1)" font-size="9" text-anchor="middle" fill="#111" stroke="#111" stroke-width="0.15">b</text>
<text transform="translate(110.1,181.6) scale(0.84,1)" font-size="9" text-anchor="middle" fill="#111" stroke="#111" stroke-width="0.15">a</text>
<text transform="translate(148.9,51.4) scale(0.84,1)" font-size="9" text-anchor="middle" fill="#111" stroke="#111" stroke-width="0.15">*#</text>
<text transform="translate(180.8,133.6) scale(0.84,1)" font-size="9" text-anchor="middle" fill="#111" stroke="#111" stroke-width="0.15">#</text>
<path d="M53.3 84.9H78" stroke="#4a4a4a" stroke-width="1.1"/>
<path d="M65.8 99.3H79.9" stroke="#4a4a4a" stroke-width="1.1"/>
<path d="M82.9 178H98.9" stroke="#4a4a4a" stroke-width="1.1"/>
<path d="M105.3 186.8H116.1" stroke="#4a4a4a" stroke-width="1.1"/>
<path d="M142.1 54.3H153.9" stroke="#4a4a4a" stroke-width="1.1"/>
<path d="M174.3 137.5H190.7" stroke="#4a4a4a" stroke-width="1.1"/>
<rect x="285.6" y="40.40" width="12.6" height="10.4" fill="#ffffff" stroke="#d8d8d8" stroke-width="1.1"/>
<text transform="translate(305,49.70) scale(0.94,1)" font-size="12.6" stroke="#000" stroke-width="0.15">Group I</text>
<rect x="285.6" y="59.82" width="12.6" height="10.4" fill="#ffffff" stroke="#000000" stroke-width="1.3"/>
<text transform="translate(305,69.12) scale(0.94,1)" font-size="12.6" stroke="#000" stroke-width="0.15">Group II</text>
<rect x="285.6" y="79.24" width="12.6" height="10.4" fill="#d2d2d2" stroke="#d2d2d2" stroke-width="1.1"/>
<text transform="translate(305,88.54) scale(0.94,1)" font-size="12.6" stroke="#000" stroke-width="0.15">Group III</text>
<rect x="285.6" y="98.66" width="12.6" height="10.4" fill="#808080" stroke="#808080" stroke-width="1.1"/>
<text transform="translate(305,107.96) scale(0.94,1)" font-size="12.6" stroke="#000" stroke-width="0.15">Group IV</text>
<rect x="285.6" y="118.08" width="12.6" height="10.4" fill="#000000" stroke="#000000" stroke-width="1.1"/>
<text transform="translate(305,127.38) scale(0.94,1)" font-size="12.6" stroke="#000" stroke-width="0.15">Group V</text>
</g>
</svg>
</body></html>
